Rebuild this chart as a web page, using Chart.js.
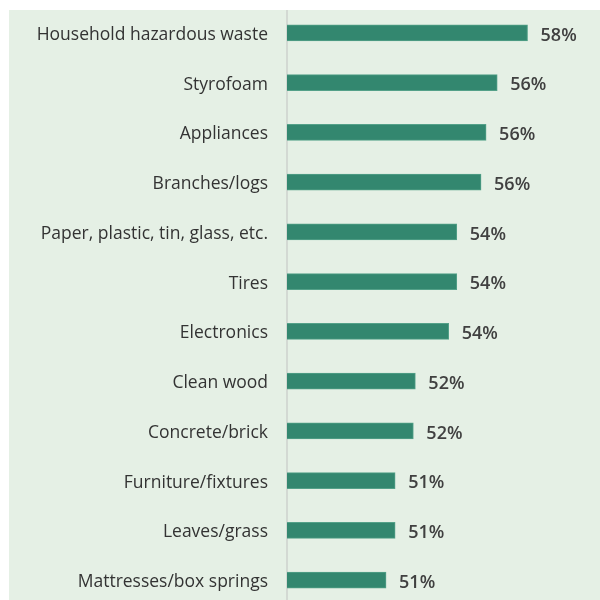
<!DOCTYPE html>
<html>
<head>
<meta charset="utf-8">
<script src="https://cdn.jsdelivr.net/npm/chart.js@4/dist/chart.umd.min.js"></script>
<style>
  html, body { margin: 0; padding: 0; width: 600px; height: 600px; overflow: hidden; background: #fff; }
  #bg { position: absolute; left: 9px; top: 10px; right: 0; bottom: 0; background: #e5f0e5; }
  #wrap { position: absolute; left: 0; top: 8px; width: 600px; height: 600px; }
  #topmask { position: absolute; left: 0; top: 0; width: 600px; height: 10px; background: #fff; }
</style>
</head>
<body>
<div id="bg"></div>
<div id="wrap"><canvas id="chart"></canvas></div>
<div id="topmask"></div>
<script>
const categories = [
  'Household hazardous waste',
  'Styrofoam',
  'Appliances',
  'Branches/logs',
  'Paper, plastic, tin, glass, etc.',
  'Tires',
  'Electronics',
  'Clean wood',
  'Concrete/brick',
  'Furniture/fixtures',
  'Leaves/grass',
  'Mattresses/box springs'
]
const shares = [57.9, 56.4, 55.85, 55.6, 54.4, 54.4, 54.0, 52.35, 52.25, 51.35, 51.35, 50.9]

const valueLabels = {
  id: 'valueLabels',
  afterDatasetsDraw(chart) {
    const ctx = chart.ctx
    const meta = chart.getDatasetMeta(0)
    ctx.save()
    ctx.font = '600 18px "Open Sans"'
    ctx.fillStyle = '#404040'
    ctx.textAlign = 'left'
    ctx.textBaseline = 'middle'
    meta.data.forEach(function (bar, i) {
      ctx.fillText(Math.round(shares[i]) + '%', bar.x + 13, bar.y + 2.5)
    })
    ctx.restore()
  }
}

new Chart(document.getElementById('chart'), {
  type: 'bar',
  data: {
    labels: categories,
    datasets: [
      {
        data: shares,
        backgroundColor: '#33876f',
        borderColor: '#54a189',
        borderWidth: 1,
        borderSkipped: false,
        barThickness: 16
      }
    ]
  },
  options: {
    indexAxis: 'y',
    responsive: true,
    maintainAspectRatio: false,
    animation: false,
    layout: { padding: { left: 0, right: 30, top: 0, bottom: 3 } },
    plugins: {
      legend: { display: false },
      tooltip: { enabled: false }
    },
    scales: {
      x: {
        display: false,
        min: 46,
        max: 60
      },
      y: {
        grid: { display: false, drawTicks: false },
        border: { display: true, color: '#d3d9d3', width: 2 },
        ticks: {
          color: '#333333',
          padding: 19,
          labelOffset: 2,
          font: { family: '"Open Sans"', size: 17.5 }
        },
        afterFit(scale) {
          scale.width = 287
          scale.paddingTop = 0
          scale.paddingBottom = 0
        }
      }
    }
  },
  plugins: [valueLabels]
})
</script>
</body>
</html>
